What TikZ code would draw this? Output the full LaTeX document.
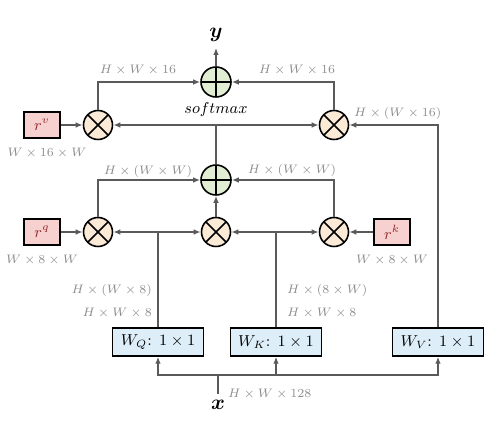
\documentclass[tikz,border=0pt]{standalone}
\usepackage{amsmath,amssymb,bm}
\usepackage{tikz}
\usetikzlibrary{arrows.meta,positioning}
\definecolor{Rosa}{HTML}{F7D0D0}
\definecolor{RojoOscuro}{HTML}{8E2A2A}
\definecolor{Celeste}{HTML}{DDEEF8}
\definecolor{Durazno}{HTML}{FBEAD6}
\definecolor{VerdeSuave}{HTML}{E2EED3}
\definecolor{GrisLinea}{HTML}{5A5A5A}
\definecolor{GrisTexto}{HTML}{8C8C8C}

\begin{document}
\begin{tikzpicture}[font=\small,>={Latex[length=4pt,width=3.2pt]},
  linea/.style={draw=GrisLinea,line width=0.8pt},
  mult/.style={circle,draw,line width=0.9pt,fill=Durazno,minimum size=0.58cm,inner sep=0pt,
    path picture={\draw[line width=0.9pt]
      (path picture bounding box.north west)--(path picture bounding box.south east)
      (path picture bounding box.north east)--(path picture bounding box.south west);}},
  suma/.style={circle,draw,line width=0.9pt,fill=VerdeSuave,minimum size=0.6cm,inner sep=0pt,
    path picture={\draw[line width=0.9pt]
      (path picture bounding box.north)--(path picture bounding box.south)
      (path picture bounding box.west)--(path picture bounding box.east);}},
  rel/.style={draw,line width=0.8pt,fill=Rosa,text=RojoOscuro,minimum width=0.72cm,minimum height=0.52cm},
  conv/.style={draw,line width=0.8pt,fill=Celeste,minimum width=1.82cm,minimum height=0.56cm,inner sep=1pt},
  dim/.style={text=GrisTexto,font=\scriptsize,inner sep=1pt}]
  \useasboundingbox (0,0) rectangle (10,8.46);
  % salida y primera fila
  \node[suma] (sumv) at (4.32,6.82) {};
  \node[font=\large] (y) at (4.32,7.76) {$\bm{y}$};
  \node[mult] (mulvl) at (1.96,5.96) {};
  \node[mult] (mulvr) at (6.68,5.96) {};
  \node[rel] (rv) at (0.84,5.96) {$r^v$};
  \coordinate (sm) at (4.32,5.96);
  \node[above=1pt of sm] (softmax) {$softmax$};
  % fila de atencion
  \node[suma] (summ) at (4.32,4.86) {};
  \node[mult] (mulq) at (1.96,3.82) {};
  \node[mult] (mulqk) at (4.32,3.82) {};
  \node[mult] (mulk) at (6.68,3.82) {};
  \node[rel] (rq) at (0.84,3.82) {$r^q$};
  \node[rel] (rk) at (7.84,3.82) {$r^k$};
  % proyecciones
  \node[conv] (wq) at (3.16,1.62) {$W_Q$: $1\times1$};
  \node[conv] (wk) at (5.52,1.62) {$W_K$: $1\times1$};
  \node[conv] (wv) at (8.76,1.62) {$W_V$: $1\times1$};
  \node[font=\large] (x) at (4.36,0.36) {$\bm{x}$};
  \coordinate (qb) at (3.16,3.82);
  \coordinate (kb) at (5.52,3.82);
  \coordinate (xb) at (4.36,0.96);

  \draw[linea,->] (sumv) -- (y);
  \draw[linea,->] (mulvl) |- (sumv);
  \draw[linea,->] (mulvr) |- (sumv);
  \draw[linea,->] (rv) -- (mulvl);
  \draw[linea] (summ) -- (sm);
  \draw[linea,->] (sm) -- (mulvl);
  \draw[linea,->] (sm) -- (mulvr);
  \draw[linea,->] (wv) |- (mulvr);
  \draw[linea,->] (mulq) |- (summ);
  \draw[linea,->] (mulk) |- (summ);
  \draw[linea,->] (mulqk) -- (summ);
  \draw[linea,->] (rq) -- (mulq);
  \draw[linea,->] (rk) -- (mulk);
  \draw[linea] (wq) -- (qb);
  \draw[linea,->] (qb) -- (mulq);
  \draw[linea,->] (qb) -- (mulqk);
  \draw[linea] (wk) -- (kb);
  \draw[linea,->] (kb) -- (mulqk);
  \draw[linea,->] (kb) -- (mulk);
  \draw[linea] (x) -- (xb);
  \draw[linea,->] (xb) -| (wq);
  \draw[linea,->] (xb) -| (wk);
  \draw[linea,->] (xb) -| (wv);

  % dimensiones
  \node[dim] at (2.76,7.06) {$H\times W\times 16$};
  \node[dim] at (5.94,7.06) {$H\times W\times 16$};
  \node[dim,anchor=west] at (7.04,6.2) {$H\times(W\times 16)$};
  \node[dim,below=4pt of rv,xshift=0.1cm] {$W\times 16\times W$};
  \node[dim] at (2.96,5.04) {$H\times(W\times W)$};
  \node[dim] at (5.84,5.06) {$H\times(W\times W)$};
  \node[dim,below=4pt of rq] {$W\times 8\times W$};
  \node[dim,below=4pt of rk] {$W\times 8\times W$};
  \node[dim,anchor=east] at (3.08,2.66) {$H\times(W\times 8)$};
  \node[dim,anchor=east] at (3.08,2.2) {$H\times W\times 8$};
  \node[dim,anchor=west] at (5.7,2.66) {$H\times(8\times W)$};
  \node[dim,anchor=west] at (5.7,2.2) {$H\times W\times 8$};
  \node[dim,anchor=west] at (4.52,0.58) {$H\times W\times 128$};
\end{tikzpicture}
\end{document}
